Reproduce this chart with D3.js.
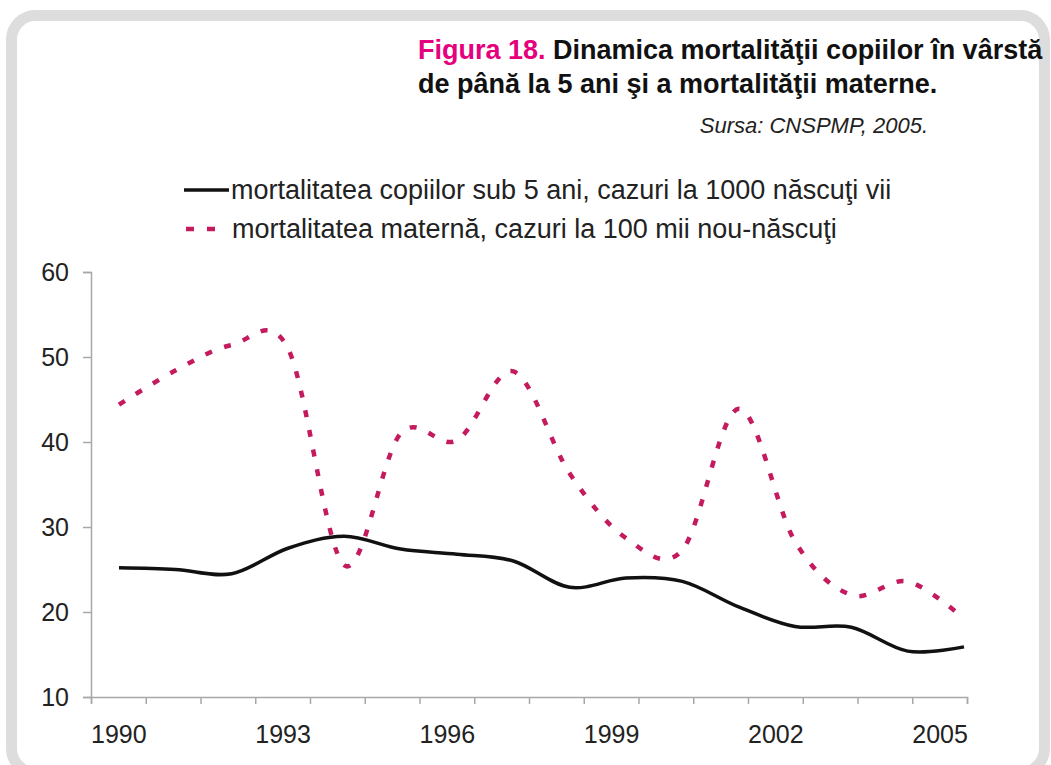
<!DOCTYPE html>
<html>
<head>
<meta charset="utf-8">
<script src="https://cdn.jsdelivr.net/npm/d3@7"></script>
<style>
  body { margin: 0; background: #fff; }
  svg { display: block; font-family: Arial, "Liberation Sans", Helvetica, sans-serif; }
</style>
</head>
<body>
<div class="container"></div>
<script>
const width = 1051;
const height = 765;

// years on the x axis
const years = [1990, 1991, 1992, 1993, 1994, 1995, 1996, 1997,
               1998, 1999, 2000, 2001, 2002, 2003, 2004, 2005];
// child mortality under 5, cases per 1000 live births
const under5 = [25.2, 25.0, 24.5, 27.5, 28.9, 27.4, 26.8, 26.0,
                22.9, 24.0, 23.6, 20.6, 18.3, 18.2, 15.4, 15.9];
// maternal mortality, cases per 100 000 newborns
const maternal = [44.4, 48.4, 51.4, 51.0, 25.5, 41.0, 40.2, 48.3,
                  36.3, 28.7, 27.3, 43.9, 28.3, 22.0, 23.6, 19.2];

const yTicks = [10, 20, 30, 40, 50, 60];
const xLabels = [1990, 1993, 1996, 1999, 2002, 2005];

const legendNames = [
  "mortalitatea copiilor sub 5 ani, cazuri la 1000 născuţi vii",
  "mortalitatea maternă, cazuri la 100 mii nou-născuţi"
];

const pink = "#c41a5e";

// the category axis of the original is a little narrower than the plotted lines
const xAxisScale = d3.scaleLinear().domain([1989.5, 2005.5]).range([91, 967]);
const x = d3.scaleLinear().domain([1990, 2005]).range([119, 964]);
const y = d3.scaleLinear().domain([10, 60]).range([697, 272]);

const svg = d3.select(".container")
  .append("svg")
    .attr("width", width)
    .attr("height", height);

// grey rounded frame
svg.append("rect")
    .attr("x", 11.5).attr("y", 15.5)
    .attr("width", 1033).attr("height", 757)
    .attr("rx", 24)
    .attr("fill", "#fff")
    .attr("stroke", "#dddddd")
    .attr("stroke-width", 11);

// title
const title = svg.append("text")
    .attr("x", 418).attr("y", 59)
    .style("font-size", "27px")
    .style("font-weight", "bold")
    .attr("fill", "#111");
title.append("tspan").attr("fill", "#e5007d").text("Figura 18.");
title.append("tspan").text(" Dinamica mortalităţii copiilor în vârstă");

svg.append("text")
    .attr("x", 418).attr("y", 93)
    .style("font-size", "27px")
    .style("font-weight", "bold")
    .attr("fill", "#111")
    .text("de până la 5 ani şi a mortalităţii materne.");

svg.append("text")
    .attr("x", 928).attr("y", 133)
    .attr("text-anchor", "end")
    .style("font-size", "22px")
    .style("font-style", "italic")
    .attr("fill", "#222")
    .text("Sursa: CNSPMP, 2005.");

// legend
const legend = svg.append("g").attr("transform", "translate(184,190)");
legend.append("line")
    .attr("x1", 0).attr("x2", 45).attr("y1", 0).attr("y2", 0)
    .attr("stroke", "#111").attr("stroke-width", 3.5);
legend.append("line")
    .attr("x1", 2).attr("x2", 36).attr("y1", 39).attr("y2", 39)
    .attr("stroke", pink).attr("stroke-width", 4.5)
    .attr("stroke-dasharray", "8 13");
legend.selectAll("text.lg")
  .data(legendNames)
  .join("text")
    .attr("class", "lg")
    .attr("x", (d, i) => i === 0 ? 47 : 48)
    .attr("y", (d, i) => i * 39)
    .attr("dy", "0.35em")
    .style("font-size", "27px")
    .attr("fill", "#222")
    .text(d => d);

// axes
svg.append("g")
    .attr("transform", "translate(91,0)")
    .call(d3.axisLeft(y).tickValues(yTicks).tickSize(8).tickPadding(14));

svg.append("g")
    .attr("transform", "translate(0,697)")
    .call(d3.axisBottom(xAxisScale).tickValues(d3.range(1989.5, 2006, 1)).tickSize(7).tickFormat(""));

const xLab = svg.append("g")
    .attr("transform", "translate(0,697)")
    .call(d3.axisBottom(xAxisScale).tickValues(xLabels).tickSize(0).tickPadding(28).tickFormat(d3.format("d")));
xLab.select(".domain").remove();

svg.selectAll(".domain").attr("stroke", "#a8a8a8").attr("stroke-width", 1.5);
svg.selectAll(".tick line").attr("stroke", "#a8a8a8").attr("stroke-width", 1.5);
svg.selectAll(".tick text")
    .style("font-size", "25px")
    .style("font-family", "Arial, 'Liberation Sans', sans-serif")
    .attr("fill", "#222");

// lines
const line = d3.line()
    .x((d, i) => x(years[i]))
    .y(d => y(d))
    .curve(d3.curveCardinal.tension(0));

svg.append("path")
    .datum(maternal)
    .attr("fill", "none")
    .attr("stroke", pink)
    .attr("stroke-width", 4.5)
    .attr("stroke-dasharray", "7 13")
    .attr("d", line);

svg.append("path")
    .datum(under5)
    .attr("fill", "none")
    .attr("stroke", "#111")
    .attr("stroke-width", 3.5)
    .attr("d", line);
</script>
</body>
</html>
